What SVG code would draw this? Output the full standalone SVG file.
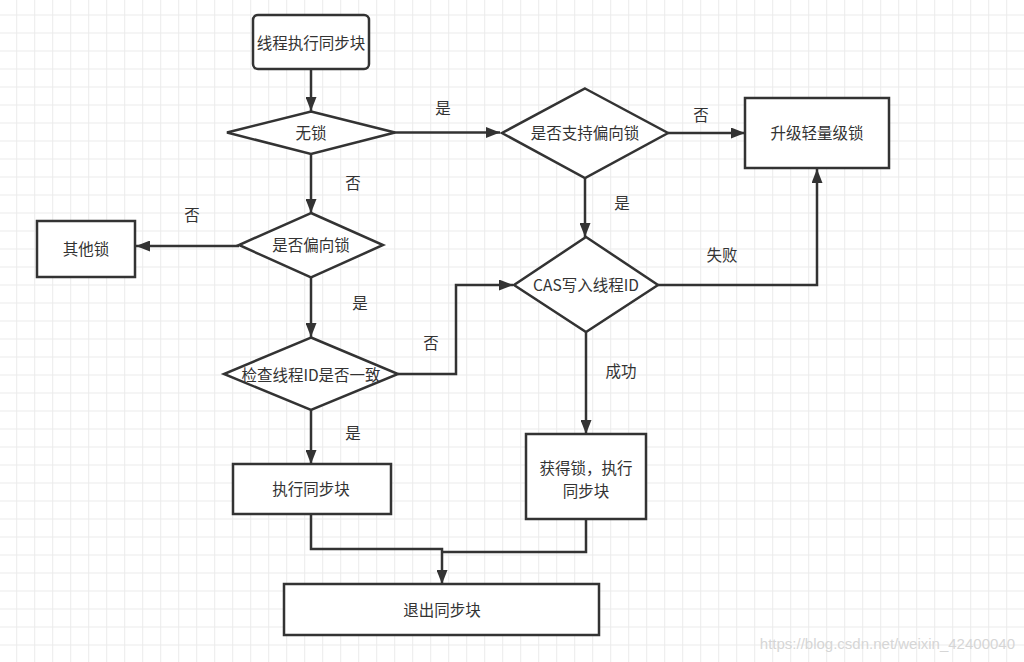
<svg xmlns="http://www.w3.org/2000/svg" width="1024" height="662" viewBox="0 0 1024 662">
<style>
.n{fill:#fff;stroke:#333;stroke-width:2.5}
.t{font-family:"Noto Sans CJK SC","Liberation Sans",sans-serif;font-size:15.5px;fill:#333;text-anchor:middle;dominant-baseline:central}
.c{fill:none;stroke:#333;stroke-width:2.5}
.a{marker-end:url(#arr)}
.wm{font-family:"Liberation Sans",Arial,sans-serif;font-size:15px;fill:#d6d6d6;text-anchor:end;dominant-baseline:central}
</style>
<defs>
<pattern id="grid" width="18" height="18" patternUnits="userSpaceOnUse" x="16.2" y="14.5">
<rect x="0" y="0" width="18" height="1" fill="#ebebeb"/>
<rect x="0" y="0" width="1" height="18" fill="#ebebeb"/>
</pattern>
<marker id="arr" markerWidth="14" markerHeight="11" refX="14" refY="5.5" orient="auto" markerUnits="userSpaceOnUse">
<path d="M0,0 L14,5.5 L0,11 z" fill="#333"/>
</marker>
</defs>
<rect width="1024" height="662" fill="#fff"/>
<rect width="1024" height="662" fill="url(#grid)"/>

<g id="connectors">
<path class="c a" d="M311,69 V111"/>
<path class="c a" d="M394,132.5 H500"/>
<path class="c a" d="M668,133 H745"/>
<path class="c a" d="M585,178 V237"/>
<path class="c a" d="M658,285 H817 V169"/>
<path class="c a" d="M586,332 V434"/>
<path class="c a" d="M311,154 V213"/>
<path class="c a" d="M239,246 H136"/>
<path class="c a" d="M311,277 V337"/>
<path class="c a" d="M398,374 H456 V285 H513"/>
<path class="c a" d="M311,410 V464"/>
<path class="c a" d="M311,514 V549 H442 V584"/>
<path class="c" d="M586,519 V552 H442"/>
<text class="t" x="443" y="107">是</text>
<text class="t" x="701" y="114">否</text>
<text class="t" x="622" y="202">是</text>
<text class="t" x="722" y="254">失败</text>
<text class="t" x="621" y="370">成功</text>
<text class="t" x="353" y="182">否</text>
<text class="t" x="192" y="214">否</text>
<text class="t" x="360" y="302">是</text>
<text class="t" x="431" y="342">否</text>
<text class="t" x="353" y="432">是</text>
</g>

<g id="start">
<rect class="n" x="253" y="15" width="116" height="54" rx="5"/>
<text class="t" x="311" y="42">线程执行同步块</text>
</g>
<g id="nolock">
<path class="n" d="M311,111.5 L395,132.5 L311,154 L227,132.5 z"/>
<text class="t" x="311" y="132">无锁</text>
</g>
<g id="supportBiased">
<path class="n" d="M585,88.5 L668,133 L585,178 L502,133 z"/>
<text class="t" x="585" y="132">是否支持偏向锁</text>
</g>
<g id="upgrade">
<rect class="n" x="745" y="98" width="144" height="70"/>
<text class="t" x="817" y="132">升级轻量级锁</text>
</g>
<g id="cas">
<path class="n" d="M586,237 L658,285 L586,332 L514,285 z"/>
<text class="t" x="586" y="284">CAS写入线程ID</text>
</g>
<g id="acquire">
<rect class="n" x="526" y="434" width="120" height="85"/>
<text class="t" x="586" y="467">获得锁，执行</text>
<text class="t" x="586" y="490">同步块</text>
</g>
<g id="isBiased">
<path class="n" d="M311,213 L383,245 L311,277.5 L239,245 z"/>
<text class="t" x="311" y="244">是否偏向锁</text>
</g>
<g id="otherLock">
<rect class="n" x="37" y="221" width="98" height="56"/>
<text class="t" x="86" y="248">其他锁</text>
</g>
<g id="checkId">
<path class="n" d="M311,337.5 L398,374 L311,410 L224,374 z"/>
<text class="t" x="311" y="374">检查线程ID是否一致</text>
</g>
<g id="execSync">
<rect class="n" x="233" y="464" width="158" height="50"/>
<text class="t" x="311" y="488">执行同步块</text>
</g>
<g id="exit">
<rect class="n" x="284" y="584" width="315" height="51"/>
<text class="t" x="442" y="609">退出同步块</text>
</g>
<text class="wm" x="1015" y="643">https://blog.csdn.net/weixin_42400040</text>
</svg>
